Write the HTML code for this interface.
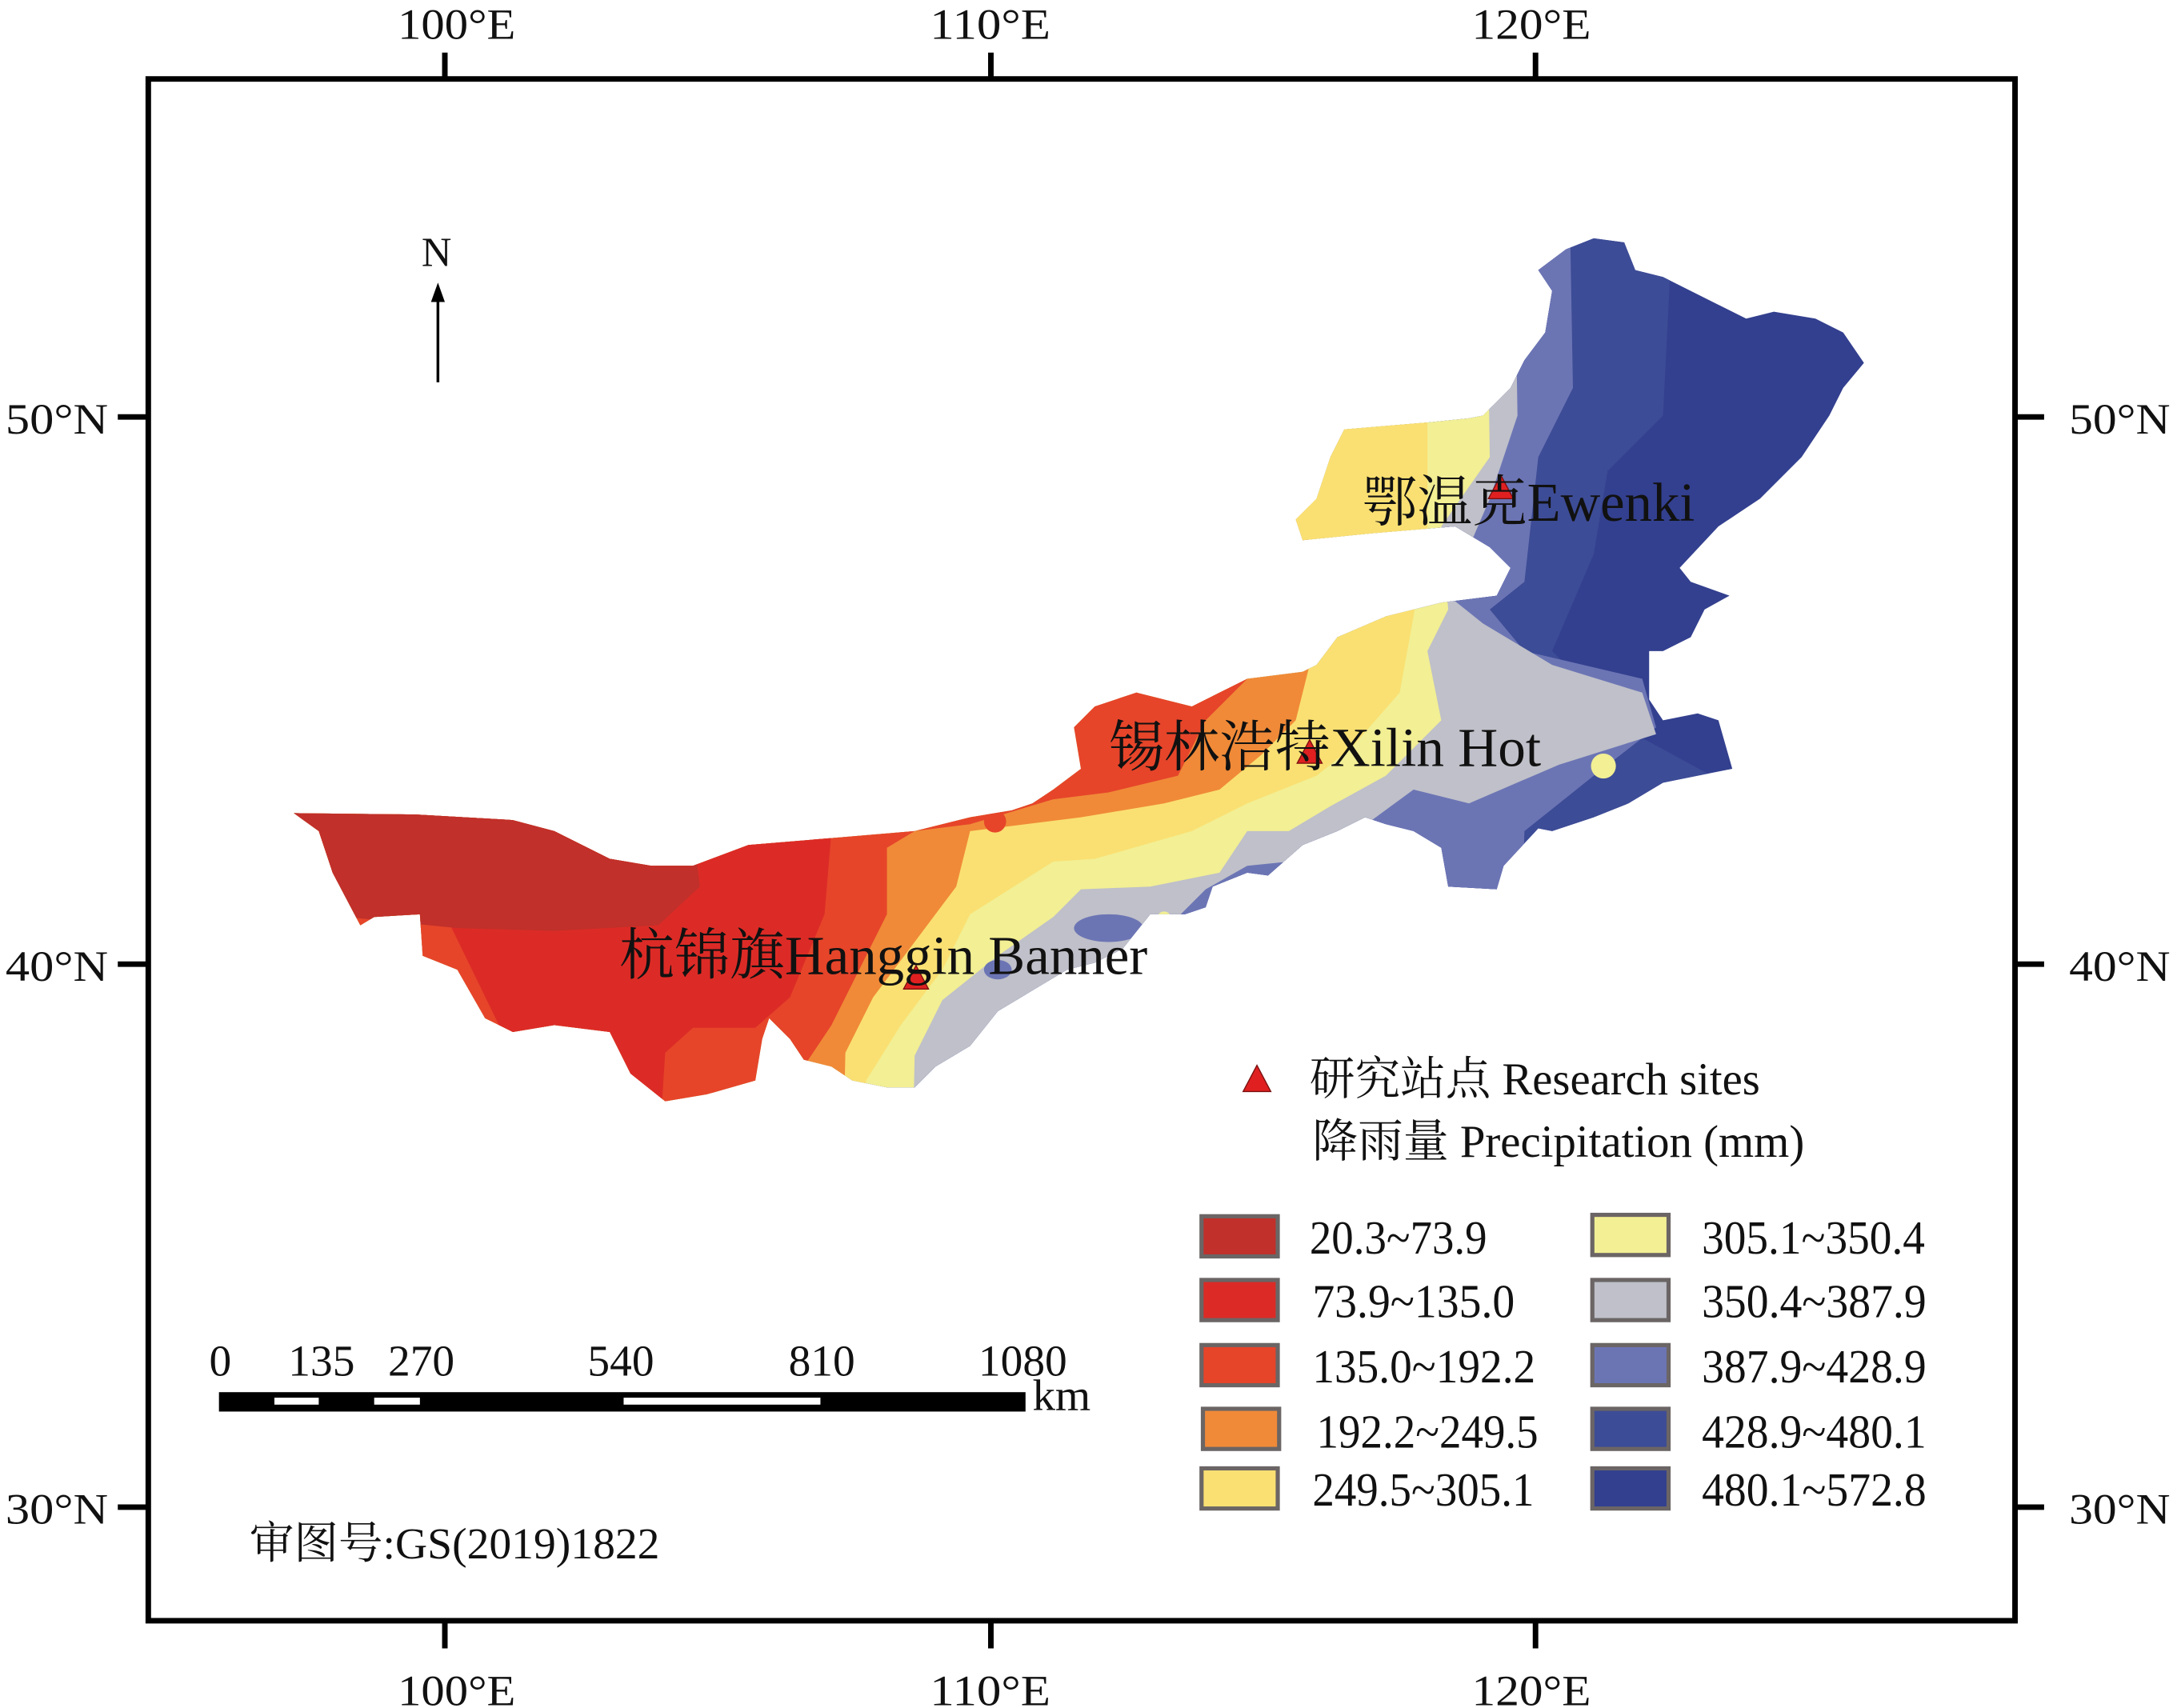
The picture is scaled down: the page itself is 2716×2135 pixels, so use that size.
<!DOCTYPE html>
<html><head><meta charset="utf-8"><style>
html,body{margin:0;padding:0;background:#fff;}
svg{display:block;}
text{font-family:"Liberation Serif","Noto Serif CJK SC",serif;fill:#111;}
</style></head><body>
<svg width="2716" height="2135" viewBox="0 0 1568 1233" preserveAspectRatio="none" xmlns="http://www.w3.org/2000/svg">
<defs>
<clipPath id="m"><polygon id="outline" points="212,587 230,600 240,630 260,668 270,662 303,660 305,690 330,700 350,735 370,745 400,740 440,745 455,775 480,795 510,790 545,780 550,750 555,735 570,750 580,765 600,770 615,780 640,785 660,785 675,770 700,755 720,730 745,715 770,700 790,695 810,685 830,660 855,660 870,655 875,640 900,630 915,632 940,610 965,600 985,590 1000,595 1020,600 1040,612 1045,640 1080,642 1085,625 1110,598 1120,600 1150,590 1175,580 1200,565 1225,560 1250,555 1240,520 1225,515 1200,520 1190,505 1190,470 1200,470 1220,460 1230,440 1248,430 1220,420 1212,410 1240,380 1270,360 1300,330 1320,300 1330,280 1345,262 1330,240 1310,230 1280,225 1260,230 1240,220 1220,210 1200,200 1180,195 1172,175 1150,172 1130,180 1110,195 1120,210 1115,240 1100,260 1090,280 1070,300 1060,302 1030,305 970,310 960,330 950,360 935,375 940,390 990,385 1050,380 1075,395 1090,410 1080,430 1040,435 1000,445 965,460 950,480 940,485 900,490 880,500 860,510 820,500 790,510 775,525 780,555 760,570 745,580 730,585 700,590 660,600 600,605 540,610 500,625 470,625 440,620 400,600 370,592 300,588"/></clipPath>
</defs>
<g clip-path="url(#m)">
<rect x="0" y="0" width="1568" height="1233" fill="#33408f"/>
<polygon fill="#3d4c96" points="0,0 1215,0 1200,300 1160,340 1150,400 1120,470 1180,530 1235,560 1260,1233 0,1233"/>
<polygon fill="#6c75b4" points="0,0 1130,0 1135,280 1110,330 1100,420 1075,440 1100,470 1185,490 1195,525 1150,560 1100,600 1080,1233 0,1233"/>
<polygon fill="#bfc0c9" points="0,0 1090,0 1095,300 1075,360 1045,430 1070,450 1120,480 1185,500 1195,530 1125,552 1060,580 1020,570 990,592 950,620 900,625 870,642 850,662 800,700 740,722 700,762 670,1233 0,1233"/>
<polygon fill="#f2ef94" points="0,0 1070,0 1075,330 1040,380 1045,440 1030,470 1040,520 1000,560 960,582 930,600 900,600 880,630 830,640 780,642 760,662 720,690 680,722 660,762 650,1233 0,1233"/>
<polygon fill="#fae072" points="0,0 1030,0 1030,380 1020,445 1010,500 975,540 950,560 900,580 860,600 790,620 760,622 700,660 680,700 650,740 625,780 620,1233 0,1233"/>
<polygon fill="#f08a38" points="0,0 945,0 945,480 935,520 910,545 880,570 840,580 780,590 700,600 690,640 660,680 630,720 610,760 600,1233 0,1233"/>
<polygon fill="#e6452a" points="0,0 900,0 900,490 870,520 850,560 800,572 760,577 700,595 660,600 640,612 640,660 620,700 600,740 580,770 560,1233 0,1233"/>
<polygon fill="#dc2b26" points="0,0 600,0 600,600 595,660 570,720 545,742 500,742 480,760 450,1233 0,1233 0,760 380,750 360,740"/>
<polygon fill="#c1302a" points="200,580 500,600 505,640 475,668 400,672 330,670 250,662 200,650"/>
<polygon fill="#fae072" points="920,290 1030,290 1030,400 920,400"/>
<circle cx="1157" cy="553" r="9" fill="#f2ef94"/>
<ellipse cx="800" cy="670" rx="25" ry="10" fill="#6c75b4"/>
<ellipse cx="720" cy="700" rx="10" ry="7" fill="#6c75b4"/>
<circle cx="840" cy="663" r="5" fill="#f2ef94"/>
<circle cx="718" cy="593" r="8" fill="#e6452a"/>
</g>
<rect x="107" y="57" width="1347" height="1113" fill="none" stroke="#000" stroke-width="4"/>
<g stroke="#000" stroke-width="4">
<line x1="321" y1="38" x2="321" y2="57"/><line x1="715" y1="38" x2="715" y2="57"/><line x1="1108" y1="38" x2="1108" y2="57"/>
<line x1="321" y1="1170" x2="321" y2="1190"/><line x1="715" y1="1170" x2="715" y2="1190"/><line x1="1108" y1="1170" x2="1108" y2="1190"/>
<line x1="85" y1="301" x2="107" y2="301"/><line x1="85" y1="696" x2="107" y2="696"/><line x1="85" y1="1088" x2="107" y2="1088"/>
<line x1="1454" y1="301" x2="1475" y2="301"/><line x1="1454" y1="696" x2="1475" y2="696"/><line x1="1454" y1="1088" x2="1475" y2="1088"/>
</g>
<g font-size="31">
<text x="287" y="28" textLength="85" lengthAdjust="spacingAndGlyphs">100°E</text><text x="671" y="28" textLength="87" lengthAdjust="spacingAndGlyphs">110°E</text><text x="1062" y="28" textLength="86" lengthAdjust="spacingAndGlyphs">120°E</text>
<text x="287" y="1231" textLength="85" lengthAdjust="spacingAndGlyphs">100°E</text><text x="671" y="1231" textLength="87" lengthAdjust="spacingAndGlyphs">110°E</text><text x="1062" y="1231" textLength="86" lengthAdjust="spacingAndGlyphs">120°E</text>
<text x="4" y="313" textLength="74" lengthAdjust="spacingAndGlyphs">50°N</text><text x="4" y="708" textLength="74" lengthAdjust="spacingAndGlyphs">40°N</text><text x="4" y="1100" textLength="74" lengthAdjust="spacingAndGlyphs">30°N</text>
<text x="1493" y="313" textLength="73" lengthAdjust="spacingAndGlyphs">50°N</text><text x="1493" y="708" textLength="73" lengthAdjust="spacingAndGlyphs">40°N</text><text x="1493" y="1100" textLength="73" lengthAdjust="spacingAndGlyphs">30°N</text>
</g>
<text x="315" y="192" font-size="30" text-anchor="middle">N</text>
<line x1="316" y1="214" x2="316" y2="276" stroke="#000" stroke-width="2"/>
<polygon points="316,204 311,218 321,218" fill="#000"/>
<g fill="#e02020" stroke="#7a1010" stroke-width="0.8">
<polygon points="1083,343 1074,360 1092,360"/>
<polygon points="945,534 936,551 954,551"/>
<polygon points="661,697 652,714 670,714"/>
</g>
<g font-size="40">
<text x="983" y="376" textLength="240" lengthAdjust="spacingAndGlyphs">鄂温克Ewenki</text>
<text x="800" y="553" textLength="312" lengthAdjust="spacingAndGlyphs">锡林浩特Xilin Hot</text>
<text x="447" y="703" textLength="381" lengthAdjust="spacingAndGlyphs">杭锦旗Hanggin Banner</text>
</g>
<polygon points="907,769 897,788 917,788" fill="#e02020" stroke="#7a1010" stroke-width="0.8"/>
<g font-size="33">
<text x="945" y="790" textLength="325" lengthAdjust="spacingAndGlyphs">研究站点  Research sites</text>
<text x="947" y="835" textLength="355" lengthAdjust="spacingAndGlyphs">降雨量  Precipitation (mm)</text>
</g>
<g stroke="#6b6565" stroke-width="3">
<rect x="867" y="878" width="55" height="29" fill="#c1302a"/>
<rect x="867" y="924" width="55" height="29" fill="#dc2b26"/>
<rect x="867" y="971" width="55" height="29" fill="#e6452a"/>
<rect x="868" y="1017" width="55" height="29" fill="#f08a38"/>
<rect x="867" y="1060" width="55" height="29" fill="#fae072"/>
<rect x="1149" y="877" width="55" height="29" fill="#f2ef94"/>
<rect x="1149" y="924" width="55" height="29" fill="#bfc0c9"/>
<rect x="1149" y="971" width="55" height="29" fill="#6c75b4"/>
<rect x="1149" y="1017" width="55" height="29" fill="#3d4c96"/>
<rect x="1149" y="1060" width="55" height="29" fill="#33408f"/>
</g>
<g font-size="34">
<text x="945" y="905" textLength="128" lengthAdjust="spacingAndGlyphs">20.3~73.9</text>
<text x="947" y="951" textLength="146" lengthAdjust="spacingAndGlyphs">73.9~135.0</text>
<text x="947" y="998" textLength="161" lengthAdjust="spacingAndGlyphs">135.0~192.2</text>
<text x="950" y="1045" textLength="160" lengthAdjust="spacingAndGlyphs">192.2~249.5</text>
<text x="947" y="1087" textLength="160" lengthAdjust="spacingAndGlyphs">249.5~305.1</text>
<text x="1228" y="905" textLength="161" lengthAdjust="spacingAndGlyphs">305.1~350.4</text>
<text x="1228" y="951" textLength="162" lengthAdjust="spacingAndGlyphs">350.4~387.9</text>
<text x="1228" y="998" textLength="162" lengthAdjust="spacingAndGlyphs">387.9~428.9</text>
<text x="1228" y="1045" textLength="162" lengthAdjust="spacingAndGlyphs">428.9~480.1</text>
<text x="1228" y="1087" textLength="162" lengthAdjust="spacingAndGlyphs">480.1~572.8</text>
</g>
<rect x="158" y="1005" width="582" height="14" fill="#000"/>
<rect x="198" y="1009" width="32" height="5" fill="#fff"/>
<rect x="270" y="1009" width="33" height="5" fill="#fff"/>
<rect x="450" y="1009" width="142" height="5" fill="#fff"/>
<g font-size="32" text-anchor="middle">
<text x="159" y="993">0</text><text x="232" y="993">135</text><text x="304" y="993">270</text>
<text x="448" y="993">540</text><text x="593" y="993">810</text><text x="738" y="993">1080</text>
</g>
<text x="745" y="1018" font-size="32" textLength="42" lengthAdjust="spacingAndGlyphs">km</text>
<text x="180" y="1125" font-size="32" textLength="296" lengthAdjust="spacingAndGlyphs">审图号:GS(2019)1822</text>
</svg>
</body></html>
